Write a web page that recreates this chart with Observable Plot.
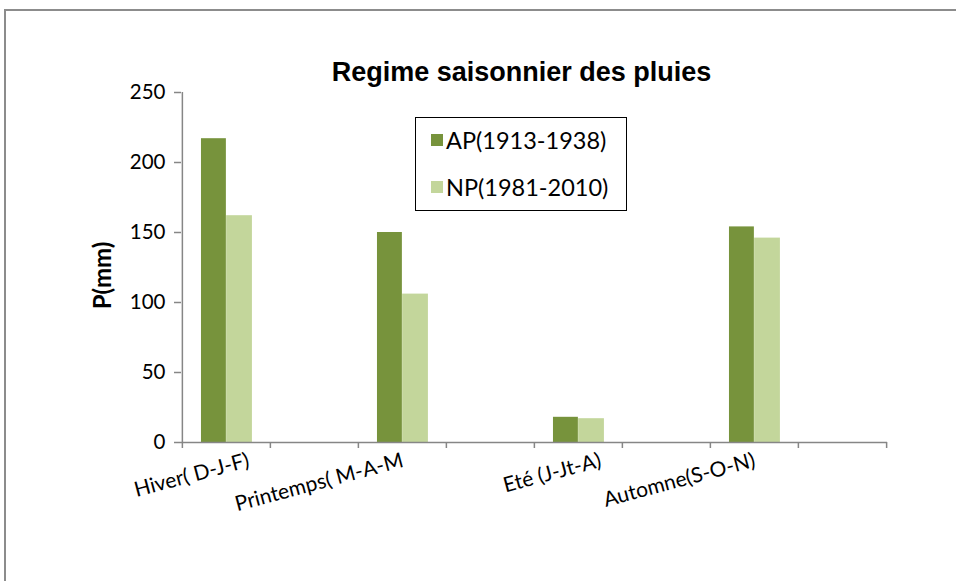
<!DOCTYPE html>
<html>
<head>
<meta charset="utf-8">
<script src="https://cdn.jsdelivr.net/npm/d3@7"></script>
<script src="https://cdn.jsdelivr.net/npm/@observablehq/plot@0.6"></script>
<style>
  html, body { margin: 0; padding: 0; background: #fff; }
  #wrap { position: relative; width: 956px; height: 581px; overflow: hidden; }
  #border { position: absolute; left: 4px; top: 9px; width: 1000px; height: 700px; border: 2px solid #8c8c8c; box-sizing: border-box; }
  #title { position: absolute; left: 0; width: 1043px; top: 57px; text-align: center; font-family: "Liberation Sans", Arial, sans-serif; font-weight: bold; font-size: 27px; color: #000; }
  #legend { position: absolute; left: 415px; top: 117px; width: 212px; height: 94px; border: 1.5px solid #000; box-sizing: border-box; background: #fff; font-family: Lato, sans-serif; font-size: 23.5px; color: #000; }
  .item { position: absolute; left: 15px; display: flex; align-items: center; }
  .sw { width: 12px; height: 12px; margin-right: 3px; }
  #chart { position: absolute; left: 0; top: 0; }
</style>
</head>
<body>
<div id="wrap">
  <div id="border"></div>
  <div id="chart"></div>
  <div id="title"></div>
  <div id="legend"></div>
</div>
<script>
const title = "Regime saisonnier des pluies";
const yLabel = "P(mm)";
const categories = ["Hiver( D-J-F)", "Printemps( M-A-M", "Eté (J-Jt-A)", "Automne(S-O-N)"];
const seriesNames = ["AP(1913-1938)", "NP(1981-2010)"];
const apValues = [217, 150, 18, 154];
const npValues = [162, 106, 17, 146];
const yTicks = [0, 50, 100, 150, 200, 250];
const colors = ["#77933C", "#C3D69B"];

const W = 956, H = 581, ML = 181, MR = 69, MT = 92, MB = 139;
// each season is followed by an empty slot (as in the source chart)
const xDomain = categories.flatMap(c => [c, c + " "]);
const bw = (W - ML - MR) / xDomain.length;

const apData = categories.map((c, i) => ({category: c, value: apValues[i]}));
const npData = categories.map((c, i) => ({category: c, value: npValues[i]}));
const axisColor = "#868686";

const labelOpts = {x: d => d, frameAnchor: "bottom", textAnchor: "end", lineAnchor: "bottom", rotate: -15, dy: 24, fontSize: 21};

const chart = Plot.plot({
  width: W, height: H,
  marginLeft: ML, marginRight: MR, marginTop: MT, marginBottom: MB,
  style: {fontFamily: "Lato, sans-serif", fontSize: "20px", color: "#000", background: "transparent", overflow: "visible"},
  x: {type: "band", domain: xDomain, padding: 0, axis: null, label: null},
  y: {domain: [0, 250], axis: null, label: null},
  marks: [
    Plot.barY(apData, {x: "category", y: "value", fill: colors[0], insetLeft: bw * 0.215, insetRight: bw * 0.5}),
    Plot.barY(npData, {x: "category", y: "value", fill: colors[1], insetLeft: bw * 0.5, insetRight: bw * 0.205}),
    Plot.ruleY([0], {stroke: axisColor, strokeWidth: 1.5}),
    Plot.ruleX([xDomain[0]], {dx: -bw / 2, stroke: axisColor, strokeWidth: 1.5}),
    Plot.axisY({ticks: yTicks, label: null, tickSize: 7, tickPadding: 9, stroke: axisColor, fill: "#000", fontSize: 20.5, strokeWidth: 1.5}),
    Plot.axisX({ticks: xDomain, label: null, tickSize: 6, tickFormat: () => "", dx: -bw / 2, stroke: axisColor, strokeWidth: 1.5}),
    Plot.axisX({ticks: [xDomain[xDomain.length - 1]], label: null, tickSize: 6, tickFormat: () => "", dx: bw / 2, stroke: axisColor, strokeWidth: 1.5}),
    Plot.text(categories, {...labelOpts, filter: (d, i) => i % 2 === 0, dx: 24}),
    Plot.text(categories, {...labelOpts, filter: (d, i) => i % 2 === 1, dx: 2}),
    Plot.text([yLabel], {frameAnchor: "left", textAnchor: "middle", rotate: -90, dx: -78, dy: 8, fontWeight: "bold", fontSize: 24})
  ]
});
document.getElementById("chart").appendChild(chart);
document.getElementById("title").textContent = title;

const legend = document.getElementById("legend");
seriesNames.forEach((name, i) => {
  const item = document.createElement("div");
  item.className = "item";
  item.style.top = (i === 0 ? 8 : 55) + "px";
  const sw = document.createElement("span");
  sw.className = "sw";
  sw.style.background = colors[i];
  const label = document.createElement("span");
  label.textContent = name;
  item.appendChild(sw);
  item.appendChild(label);
  legend.appendChild(item);
});
</script>
</body>
</html>
